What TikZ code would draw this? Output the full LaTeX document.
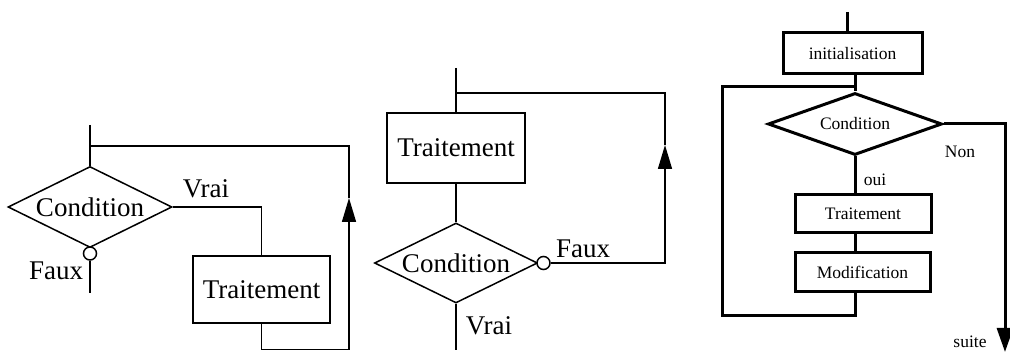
\documentclass[tikz,border=0pt]{standalone}
\usepackage{fontspec}
\setmainfont{Liberation Serif}
\usetikzlibrary{arrows.meta,shapes.geometric}
\tikzset{
  thin flow/.style={line width=1.5pt, line join=miter},
  thick flow/.style={line width=3pt, line join=miter},
  bigtext/.style={font=\fontsize{27}{30}\selectfont, inner sep=0pt},
  smalltext/.style={font=\fontsize{17.5}{20}\selectfont, inner sep=0pt},
  procbox/.style={draw, rectangle, inner sep=0pt},
  testbox/.style={draw, diamond, inner sep=0pt},
  negcircle/.style={draw, circle, fill=white, inner sep=0pt, minimum size=13pt, line width=1.5pt},
  uptip/.style={-{Triangle[length=24pt,width=14pt]}},
}
\begin{document}
\begin{tikzpicture}[x=1pt,y=-1pt]
\useasboundingbox (0,0) rectangle (1010,352);

% ---------- "tant que" : test before the body ----------
\coordinate (top1) at (90,125);
\coordinate (j1) at (90,146);
\node[testbox, thin flow, bigtext, shape aspect=2, minimum width=164pt, minimum height=81pt] (d1) at (90,207) {Condition};
\node[negcircle] (o1) at (90,253.5) {};
\coordinate (end1) at (90,293);
\node[procbox, thin flow, bigtext, minimum width=137pt, minimum height=67pt] (b1) at (261.5,289.5) {Traitement};
\coordinate (r1b) at (349,349.5);
\coordinate (arr1) at (349,198);
\coordinate (r1t) at (349,146);
\node[bigtext] (vrai1) at (206,189) {Vrai};
\node[bigtext] (faux1) at (56,271) {Faux};

\draw[thin flow] (top1) -- (d1.north);
\draw[thin flow] (o1.south) -- (end1);
\draw[thin flow] (d1.east) -| (b1.north);
\draw[thin flow, uptip] (b1.south) |- (r1b) -- (arr1);
\draw[thin flow] (arr1) -- (r1t) -- (j1);

% ---------- "répéter" : test after the body ----------
\coordinate (top2) at (456,68);
\coordinate (j2) at (456,93);
\node[procbox, thin flow, bigtext, minimum width=138pt, minimum height=70pt] (b2) at (456,148) {Traitement};
\node[testbox, thin flow, bigtext, shape aspect=2, minimum width=163pt, minimum height=80pt] (d2) at (456,263) {Condition};
\node[negcircle] (o2) at (543.5,263) {};
\coordinate (end2) at (456,350);
\coordinate (r2b) at (665,263);
\coordinate (arr2) at (665,145);
\coordinate (r2t) at (665,93);
\node[bigtext] (faux2) at (583,249) {Faux};
\node[bigtext] (vrai2) at (489,326) {Vrai};

\draw[thin flow] (top2) -- (b2.north);
\draw[thin flow] (b2.south) -- (d2.north);
\draw[thin flow] (d2.south) -- (end2);
\draw[thin flow, uptip] (o2.east) -- (r2b) -- (arr2);
\draw[thin flow] (arr2) -- (r2t) -- (j2);

% ---------- "pour" : initialisation, test, body, modification ----------
\coordinate (top3) at (847,12);
\node[procbox, thick flow, smalltext, minimum width=139pt, minimum height=41pt] (i3) at (852.5,53.5) {initialisation};
\node[testbox, thick flow, smalltext, shape aspect=2.8, minimum width=174pt, minimum height=62pt] (d3) at (855,124) {Condition};
\node[procbox, thick flow, smalltext, minimum width=136pt, minimum height=38pt] (t3) at (863,214) {Traitement};
\node[procbox, thick flow, smalltext, minimum width=135pt, minimum height=39pt] (m3) at (862.5,272.5) {Modification};
\coordinate (j3) at (855,87);
\coordinate (i3b) at (i3.south -| j3);
\coordinate (t3t) at (t3.north -| j3);
\coordinate (t3b) at (t3.south -| j3);
\coordinate (m3t) at (m3.north -| j3);
\coordinate (m3b) at (m3.south -| j3);
\coordinate (lb3) at (855,316);
\coordinate (l3b) at (722,316);
\coordinate (l3t) at (722,87);
\coordinate (r3t) at (1005,124);
\coordinate (r3b) at (1005,352);
\node[smalltext] (oui3) at (875,180) {oui};
\node[smalltext] (non3) at (960,152) {Non};
\node[smalltext] (suite3) at (970,342) {suite};

\draw[thick flow] (top3) -- (top3 |- i3.north);
\draw[thick flow] (i3b) -- (d3.north);
\draw[thick flow] (d3.south) -- (t3t);
\draw[thick flow] (t3b) -- (m3t);
\draw[thick flow] (m3b) -- (lb3) -- (l3b) -- (l3t) -- (j3);
\draw[thick flow, -{Triangle[length=24pt,width=16pt]}] (d3.east) -- (r3t) -- (r3b);
\end{tikzpicture}
\end{document}
